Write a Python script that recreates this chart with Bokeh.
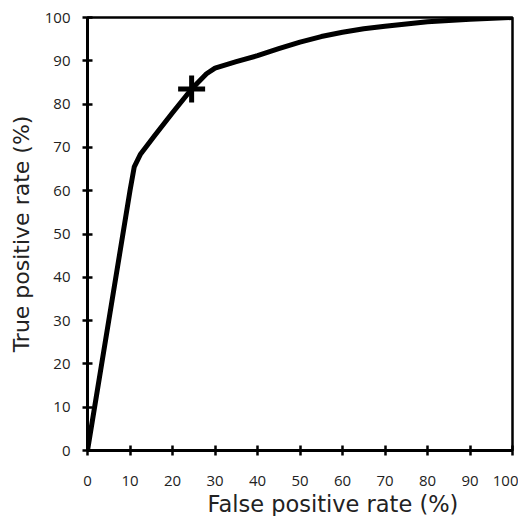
from bokeh.plotting import figure
from bokeh.models import Range1d, FixedTicker, Title
from bokeh.embed import file_html
from bokeh.resources import INLINE

fpr = [0, 5, 10, 11, 12.5, 16, 20, 24.5, 28, 30, 35, 40, 45, 50, 55, 60, 65, 70, 80, 90, 100]
tpr = [0, 30, 60, 65.5, 68.5, 73, 78, 83.5, 87, 88.3, 89.8, 91.2, 92.8, 94.3, 95.6, 96.6, 97.4, 98, 99, 99.6, 100]
marker_x = [24.5]
marker_y = [83.5]
ticks = [0, 10, 20, 30, 40, 50, 60, 70, 80, 90, 100]
x_title = "False positive rate (%)"
y_title = "True positive rate (%)"

H = 512
p = figure(frame_width=425, frame_height=433, height=H, output_backend="svg", toolbar_location=None,
           x_range=Range1d(0, 100), y_range=Range1d(0, 100))
p.min_border_left = 87
p.min_border_top = 17
p.min_border_right = 6
p.min_border_bottom = H - 17 - 433
p.xgrid.visible = False
p.ygrid.visible = False
p.outline_line_color = "black"
p.outline_line_width = 2.5
p.background_fill_color = "white"
p.border_fill_color = "white"

p.line(fpr, tpr, line_color="black", line_width=5, line_join="round", line_cap="round")
p.scatter(marker_x, marker_y, marker="cross", size=27, line_color="black", line_width=5)

for ax in (p.xaxis[0], p.yaxis[0]):
    ax.ticker = FixedTicker(ticks=ticks)
    ax.axis_line_width = 3
    ax.axis_line_color = "black"
    ax.major_tick_in = 5
    ax.major_tick_out = 5
    ax.major_tick_line_width = 2.5
    ax.major_tick_line_color = "black"
    ax.minor_tick_line_color = None
    ax.major_label_text_font = "Open Sans"
    ax.major_label_text_font_size = "15px"
    ax.major_label_text_color = "#222222"
    ax.axis_label_text_font = "DejaVu Sans"
    ax.axis_label_text_font_style = "normal"
    ax.axis_label_text_font_size = "22px"
    ax.axis_label_text_color = "#222222"

p.yaxis.axis_label = y_title
p.xaxis.major_label_standoff = 20
p.yaxis.major_label_standoff = 12
p.yaxis.axis_label_standoff = 8

xt = Title(text=x_title, align="left", offset=120, standoff=0,
           text_font="DejaVu Sans", text_font_style="normal",
           text_font_size="22.5px", text_color="#222222")
p.add_layout(xt, "below")

open("out.html", "w").write(file_html(p, INLINE))
